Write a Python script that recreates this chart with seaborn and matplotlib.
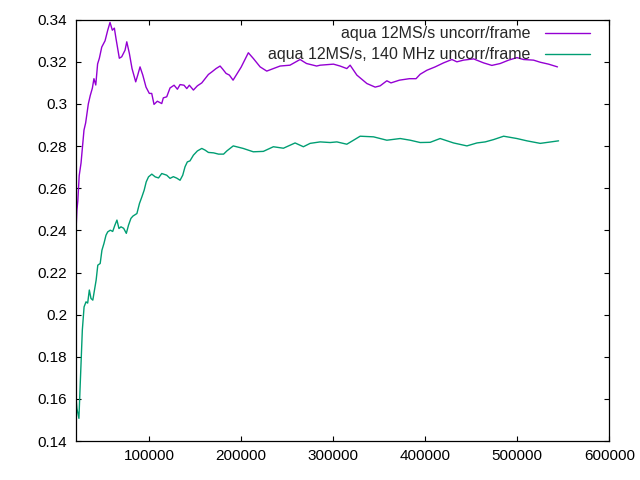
import matplotlib
matplotlib.use("Agg")
import matplotlib.pyplot as plt
import seaborn as sns
import pandas as pd
from matplotlib.ticker import FuncFormatter

# series 1: aqua 12MS/s uncorr/frame
x_purple = [20000, 20500, 21500, 22500, 24000, 26000, 29200, 31000, 33900, 36000,
            38300, 40000, 42000, 44000, 45900, 48500, 52100, 55000, 57500, 60000,
            62200, 64000, 67600, 70200, 73800, 75700, 78500, 81400, 85400, 87600,
            90100, 93100, 96600, 100200, 102800, 105300, 108900, 113700, 115400, 119100,
            122700, 127100, 130700, 133600, 137900, 140900, 143700, 148100, 152400, 157200,
            160800, 164400, 168100, 172700, 177100, 180000, 183600, 187200, 191200, 200000,
            207800, 213200, 220600, 227800, 235000, 242300, 253000, 264000, 271000, 282000,
            285800, 300300, 307500, 314800, 318400, 325700, 336600, 345600, 351000, 358300,
            362800, 372000, 382800, 390000, 394500, 401800, 410800, 419900, 429000, 434400,
            441600, 452500, 463400, 472400, 481500, 490600, 499600, 506800, 517700, 525000,
            534000, 543700]
y_purple = [0.236, 0.2395, 0.2496, 0.254, 0.266, 0.272, 0.2876, 0.291, 0.3000, 0.304,
            0.3075, 0.312, 0.309, 0.319, 0.3217, 0.327, 0.330, 0.335, 0.3387, 0.335,
            0.336, 0.331, 0.3217, 0.3224, 0.3255, 0.3295, 0.324, 0.3168, 0.3105, 0.3137,
            0.3176, 0.3137, 0.308, 0.305, 0.3050, 0.2998, 0.3013, 0.3002, 0.3029, 0.3034,
            0.3076, 0.3089, 0.307, 0.3092, 0.3089, 0.3073, 0.3089, 0.3066, 0.3086, 0.310,
            0.312, 0.314, 0.3152, 0.3168, 0.318, 0.3165, 0.3145, 0.3137, 0.3113, 0.3175,
            0.3243, 0.3216, 0.3176, 0.3156, 0.3168, 0.318, 0.3184, 0.3211, 0.3192, 0.318,
            0.3184, 0.3189, 0.318, 0.3168, 0.3184, 0.3137, 0.3097, 0.308, 0.3086, 0.311,
            0.310, 0.3113, 0.312, 0.312, 0.3141, 0.316, 0.3176, 0.3195, 0.3211, 0.320,
            0.3208, 0.3214, 0.3195, 0.3183, 0.3192, 0.3208, 0.322, 0.3211, 0.3208, 0.3198,
            0.3189, 0.3176]

# series 2: aqua 12MS/s, 140 MHz uncorr/frame
x_green = [20000, 20500, 21500, 23700, 25000, 26000, 27400, 29300, 31400, 33200,
           35000, 36800, 38800, 40600, 42400, 44200, 46800, 48700, 50900, 53100,
           55000, 57800, 60400, 62800, 65000, 67200, 69400, 72300, 75200, 77600,
           80200, 82400, 86700, 89500, 92100, 94600, 96800, 99300, 102900, 106600,
           110200, 113700, 119100, 122700, 126300, 130000, 133600, 136500, 139000, 141500,
           144400, 148100, 152400, 157200, 160800, 164400, 170000, 175400, 180900, 184400,
           191400, 202200, 213200, 224100, 235000, 245900, 258600, 267600, 274900, 285800,
           296700, 304000, 314800, 322100, 329300, 343800, 358300, 372800, 383700, 394500,
           405400, 416200, 430800, 445300, 456200, 465200, 474300, 485200, 499600, 510500,
           525000, 544900]
y_green = [0.1698, 0.161, 0.1555, 0.1508, 0.1658, 0.1769, 0.1927, 0.2037, 0.2061, 0.2055,
           0.2117, 0.2077, 0.2069, 0.2117, 0.2164, 0.2235, 0.2243, 0.2306, 0.2338, 0.2377,
           0.2393, 0.2401, 0.2395, 0.2425, 0.2449, 0.2409, 0.2417, 0.2410, 0.2386, 0.2425,
           0.2457, 0.2468, 0.2480, 0.2528, 0.2559, 0.2591, 0.263, 0.2654, 0.2667, 0.2654,
           0.2649, 0.267, 0.2662, 0.2647, 0.2655, 0.2648, 0.2638, 0.2662, 0.2702, 0.2725,
           0.273, 0.2757, 0.2777, 0.2789, 0.2781, 0.277, 0.2768, 0.2762, 0.2762, 0.2777,
           0.2801, 0.2789, 0.2773, 0.2775, 0.2797, 0.2790, 0.2815, 0.2797, 0.2813, 0.282,
           0.2817, 0.282, 0.2809, 0.2828, 0.2847, 0.2844, 0.2828, 0.2836, 0.2828, 0.2817,
           0.2818, 0.2836, 0.2815, 0.2801, 0.2815, 0.282, 0.2831, 0.2847, 0.2836, 0.2825,
           0.2813, 0.2825]

labels = ["aqua 12MS/s uncorr/frame", "aqua 12MS/s, 140 MHz uncorr/frame"]
colors = ["#9400d3", "#009e73"]

df = pd.concat([
    pd.DataFrame({"x": x_purple, "y": y_purple, "series": labels[0]}),
    pd.DataFrame({"x": x_green, "y": y_green, "series": labels[1]}),
])

sns.set_style("ticks")
plt.rcParams["font.family"] = ["Liberation Sans", "DejaVu Sans"]

fig = plt.figure(figsize=(6.4, 4.8), dpi=100)
ax = fig.add_axes([0.118, 0.081, 0.834, 0.878])
sns.lineplot(data=df, x="x", y="y", hue="series", hue_order=labels,
             palette=dict(zip(labels, colors)), estimator=None, sort=False,
             linewidth=1.0, ax=ax)

ax.set_xlim(20000, 600000)
ax.set_ylim(0.14, 0.34)
ax.set_xticks([100000, 200000, 300000, 400000, 500000, 600000])
ax.set_yticks([0.14, 0.16, 0.18, 0.2, 0.22, 0.24, 0.26, 0.28, 0.3, 0.32, 0.34])
ax.xaxis.set_major_formatter(FuncFormatter(lambda v, p: "%g" % v))
ax.yaxis.set_major_formatter(FuncFormatter(lambda v, p: "%g" % round(v, 4)))
ax.set_xlabel("")
ax.set_ylabel("")
ax.tick_params(direction="in", length=3.5, width=0.8, top=True, right=True,
               labelsize=11, colors="black", pad=6)
for s in ax.spines.values():
    s.set_visible(True)
    s.set_color("black")
    s.set_linewidth(0.9)

handles, _ = ax.get_legend_handles_labels()
ax.legend(handles, labels, loc="upper right", bbox_to_anchor=(0.973, 0.996),
          frameon=False, markerfirst=False, fontsize=11.5, handlelength=2.8,
          handletextpad=0.95, labelspacing=0.38, borderaxespad=0, borderpad=0.3)

fig.savefig("out.png", dpi=100)
